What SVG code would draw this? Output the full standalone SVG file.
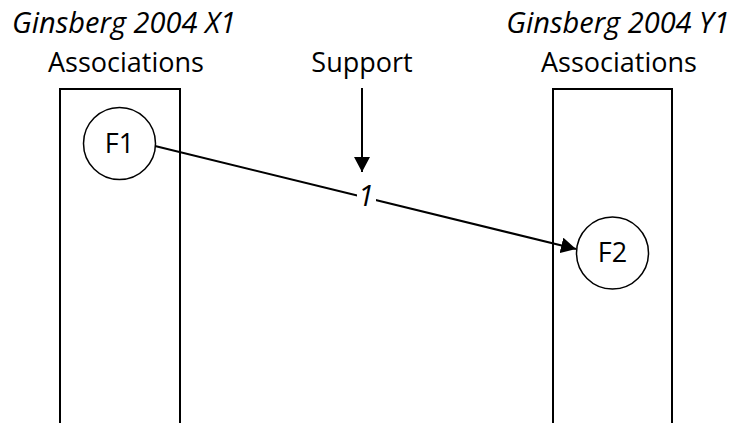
<svg xmlns="http://www.w3.org/2000/svg" width="732" height="423" viewBox="0 0 732 423">
  <style>
    text { font-family: "Open Sans", "Liberation Sans", sans-serif; fill: #000; }
    .title { font-size: 29px; font-style: italic; text-anchor: middle; }
    .lbl { font-size: 27px; text-anchor: middle; }
    .col { fill: #fff; stroke: #000; stroke-width: 2; }
    .node { fill: #fff; stroke: #000; stroke-width: 1.5; }
    .edge { stroke: #000; stroke-width: 2; fill: none; }
  </style>
  <defs>
    <marker id="arrow" markerUnits="userSpaceOnUse" markerWidth="16" markerHeight="16" refX="15" refY="8" orient="auto">
      <path d="M0,0 L15,8 L0,16 Z" fill="#000"/>
    </marker>
  </defs>
  <rect width="732" height="423" fill="#fff"/>

  <g id="colX1">
    <text class="title" x="124" y="33">Ginsberg 2004 X1</text>
    <text class="lbl" x="126" y="72">Associations</text>
    <rect class="col" x="60" y="89" width="120" height="345"/>
  </g>

  <g id="colY1">
    <text class="title" x="618" y="33">Ginsberg 2004 Y1</text>
    <text class="lbl" x="619" y="72">Associations</text>
    <rect class="col" x="553" y="89" width="119" height="345"/>
  </g>

  <g id="support">
    <text class="lbl" x="362" y="72">Support</text>
  </g>

  <g id="connectors">
    <line class="edge" x1="155" y1="146" x2="576" y2="249" marker-end="url(#arrow)"/>
    <line class="edge" x1="362" y1="88" x2="362" y2="172" marker-end="url(#arrow)"/>
    <rect x="357" y="182" width="19" height="28" fill="#fff"/>
    <text class="lbl" x="366" y="206" style="font-style: italic; font-size: 29px;">1</text>
  </g>

  <g id="F1">
    <circle class="node" cx="119.5" cy="143.5" r="36"/>
    <text class="lbl" x="119.5" y="153">F1</text>
  </g>

  <g id="F2">
    <circle class="node" cx="612.5" cy="253" r="36"/>
    <text class="lbl" x="612.5" y="262">F2</text>
  </g>
</svg>
